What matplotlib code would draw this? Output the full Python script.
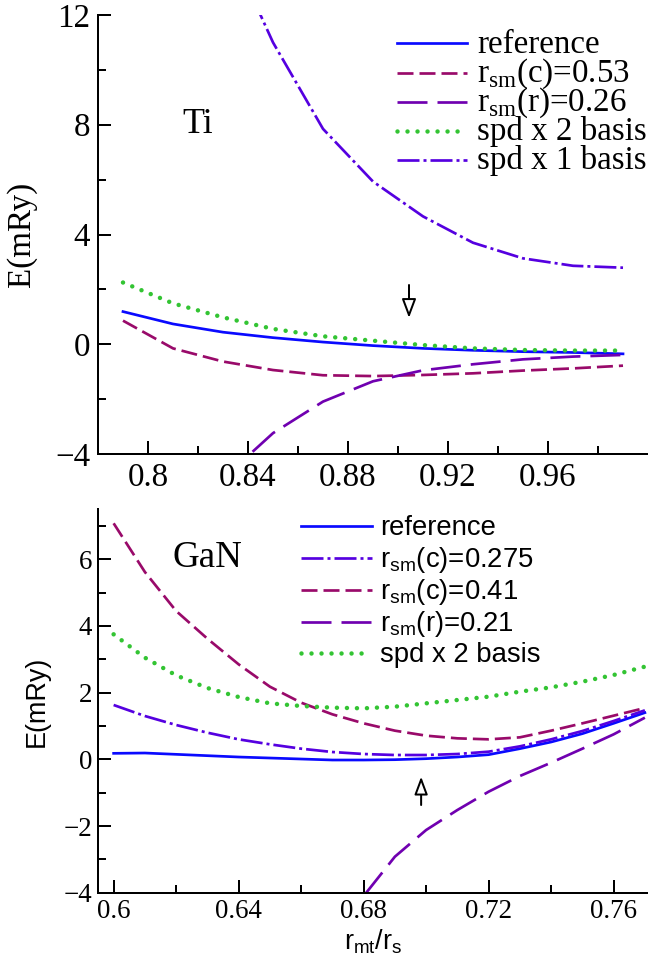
import numpy as np
import matplotlib
matplotlib.use("Agg")
import matplotlib.pyplot as plt
from matplotlib.lines import Line2D
from matplotlib.ticker import MultipleLocator, FixedLocator, FormatStrFormatter

plt.rcParams["lines.scale_dashes"] = False
plt.rcParams["mathtext.fontset"] = "custom"
plt.rcParams["mathtext.rm"] = "Liberation Serif"
plt.rcParams["mathtext.sf"] = "Liberation Sans"
plt.rcParams["font.family"] = ["Liberation Serif", "DejaVu Serif"]

SERIF = "Liberation Serif"
SANS = "Liberation Sans"

# ---- Ti panel data ----
ti_x = [0.79, 0.81, 0.83, 0.85, 0.87, 0.89, 0.91, 0.93, 0.95, 0.97, 0.99]
ti_ref = [1.19, 0.74, 0.44, 0.24, 0.08, -0.05, -0.15, -0.22, -0.27, -0.30, -0.35]
ti_c053 = [0.86, -0.15, -0.63, -0.94, -1.13, -1.16, -1.12, -1.06, -0.96, -0.88, -0.78]
ti_spd2 = [2.25, 1.49, 0.98, 0.56, 0.29, 0.13, -0.03, -0.15, -0.21, -0.23, -0.23]
ti_x_tail = [0.83, 0.85, 0.87, 0.89, 0.91, 0.93, 0.95, 0.97, 0.99]
ti_r026 = [-4.9, -3.24, -2.09, -1.35, -0.95, -0.73, -0.55, -0.45, -0.39]
ti_spd1 = [15.0, 11.0, 7.85, 5.93, 4.66, 3.70, 3.13, 2.86, 2.79]

# ---- GaN panel data ----
gan_x = [0.60, 0.61, 0.62, 0.63, 0.64, 0.65, 0.66, 0.67, 0.68,
         0.69, 0.70, 0.71, 0.72, 0.73, 0.74, 0.75, 0.76, 0.77]
gan_ref = [0.18, 0.19, 0.15, 0.11, 0.07, 0.04, 0.01, -0.02, -0.02,
           -0.01, 0.02, 0.07, 0.14, 0.32, 0.52, 0.77, 1.08, 1.40]
gan_c0275 = [1.63, 1.30, 1.03, 0.80, 0.60, 0.45, 0.32, 0.22, 0.16,
             0.13, 0.13, 0.16, 0.23, 0.39, 0.60, 0.85, 1.15, 1.47]
gan_c041 = [7.08, 5.62, 4.45, 3.62, 2.85, 2.18, 1.70, 1.35, 1.08,
            0.86, 0.71, 0.63, 0.60, 0.66, 0.86, 1.08, 1.31, 1.54]
gan_spd2 = [3.75, 3.05, 2.52, 2.14, 1.87, 1.68, 1.60, 1.55, 1.53,
            1.58, 1.68, 1.78, 1.88, 2.03, 2.16, 2.33, 2.53, 2.78]
gan_x_tail = [0.68, 0.69, 0.70, 0.71, 0.72, 0.73, 0.74, 0.75, 0.76, 0.77]
gan_r021 = [-4.1, -2.92, -2.12, -1.52, -0.97, -0.50, -0.10, 0.32, 0.75, 1.25]

BLUE = "#0a0aff"
MAROON = "#990a6a"
PURPLE = "#7000b0"
INDIGO = "#5500e0"
GREEN = "#33c433"
LW = 2.7

STYLES = {
    "ref": dict(color=BLUE, lw=LW, ls="-"),
    "dash": dict(color=MAROON, lw=LW, ls=(0, (16, 6))),
    "long": dict(color=PURPLE, lw=LW, ls=(0, (30, 10))),
    "dot": dict(color=GREEN, lw=4.5, ls=(0, (0.01, 10)), dash_capstyle="round"),
    "dashdot": dict(color=INDIGO, lw=LW, ls=(0, (22, 4, 3, 4))),
}

W, H = 648, 965
fig = plt.figure(figsize=(W / 72, H / 72), dpi=72)
ax1 = fig.add_axes([98 / W, 1 - 454 / H, 550 / W, 439 / H])
ax2 = fig.add_axes([98 / W, 1 - 892.7 / H, 550 / W, 383.4 / H])


def draw_key(entries, x0, x1, tx, rows, fs, family, drop):
    # legend drawn in figure pixels, one row per entry
    for (label, key), y in zip(entries, rows):
        st = STYLES[key]
        end = x1 - 8 if key == "dot" else x1
        fig.add_artist(Line2D([x0 / W, end / W], [1 - y / H, 1 - y / H],
                              transform=fig.transFigure, **st))
        fig.text(tx / W, 1 - (y + drop) / H, label, fontsize=fs,
                 family=family, va="baseline", ha="left")


# ---- top panel ----
ax1.plot(ti_x, ti_ref, **STYLES["ref"])
ax1.plot(ti_x, ti_c053, **STYLES["dash"])
ax1.plot(ti_x_tail, ti_r026, **STYLES["long"])
ax1.plot(ti_x, ti_spd2, **STYLES["dot"])
ax1.plot(ti_x_tail, ti_spd1, **STYLES["dashdot"])

ax1.set_xlim(0.78, 1.0)
ax1.set_ylim(-4, 12)
ax1.xaxis.set_major_locator(FixedLocator([0.8, 0.84, 0.88, 0.92, 0.96]))
ax1.xaxis.set_minor_locator(FixedLocator([0.82, 0.86, 0.90, 0.94, 0.98]))
ax1.xaxis.set_major_formatter(FormatStrFormatter("%g"))
ax1.yaxis.set_major_locator(MultipleLocator(4))
ax1.yaxis.set_minor_locator(MultipleLocator(2))
ax1.set_ylabel("E(mRy)", fontsize=33, family=SERIF)
ax1.yaxis.set_label_coords(-0.111, 0.5)
ax1.text(0.82, 8.0, "Ti", fontsize=36, family=SERIF, ha="center", va="center")
ax1.annotate("", xy=(0.9044, 0.96), xytext=(0.9044, 2.16),
             arrowprops=dict(arrowstyle="-|>,head_length=0.8,head_width=0.3",
                             mutation_scale=20, lw=2, color="black",
                             fc="white", shrinkA=0, shrinkB=0))

draw_key([("reference", "ref"),
          (r"r$_{\mathrm{sm}}$(c)=0.53", "dash"),
          (r"r$_{\mathrm{sm}}$(r)=0.26", "long"),
          ("spd x 2 basis", "dot"),
          ("spd x 1 basis", "dashdot")],
         397, 467, 477, [43.3, 72.7, 101.7, 130.7, 160.0], 33, SERIF, 9.5)

# ---- bottom panel ----
ax2.plot(gan_x, gan_ref, **STYLES["ref"])
ax2.plot(gan_x, gan_c0275, **STYLES["dashdot"])
ax2.plot(gan_x, gan_c041, **STYLES["dash"])
ax2.plot(gan_x_tail, gan_r021, **STYLES["long"])
ax2.plot(gan_x, gan_spd2, **STYLES["dot"])

ax2.set_xlim(0.595, 0.771)
ax2.set_ylim(-4, 7.5)
ax2.xaxis.set_major_locator(MultipleLocator(0.04))
ax2.xaxis.set_minor_locator(MultipleLocator(0.02))
ax2.xaxis.set_major_formatter(FormatStrFormatter("%g"))
ax2.yaxis.set_major_locator(MultipleLocator(2))
ax2.yaxis.set_minor_locator(MultipleLocator(1))
ax2.set_ylabel("E(mRy)", fontsize=27, family=SANS)
ax2.yaxis.set_label_coords(-0.087, 0.5)
ax2.set_xlabel(r"r$_{\mathsf{mt}}$/r$_{\mathsf{s}}$", fontsize=27, family=SANS)
ax2.xaxis.set_label_coords(0.5, -0.09)
ax2.text(0.630, 6.04, "GaN", fontsize=37, family=SERIF, ha="center", va="center")
ax2.annotate("", xy=(0.6984, -0.52), xytext=(0.6984, -1.37),
             arrowprops=dict(arrowstyle="-|>,head_length=0.75,head_width=0.28",
                             mutation_scale=20, lw=2, color="black",
                             fc="white", shrinkA=0, shrinkB=0))

draw_key([("reference", "ref"),
          (r"r$_{\mathsf{sm}}$(c)=0.275", "dashdot"),
          (r"r$_{\mathsf{sm}}$(c)=0.41", "dash"),
          (r"r$_{\mathsf{sm}}$(r)=0.21", "long"),
          ("spd x 2 basis", "dot")],
         301, 372, 380, [526.0, 557.7, 589.7, 621.7, 652.7], 27.5, SANS, 9)

for ax, fs, pad in ((ax1, 33, 8), (ax2, 27, 6)):
    for s in ("top", "right"):
        ax.spines[s].set_visible(False)
    for s in ("left", "bottom"):
        ax.spines[s].set_linewidth(2)
    ax.tick_params(which="major", direction="in", length=13, width=2,
                   labelsize=fs, pad=pad)
    ax.tick_params(which="minor", direction="in", length=8, width=2)
    for lab in ax.get_xticklabels() + ax.get_yticklabels():
        lab.set_family(SERIF)

fig.savefig("out.png", dpi=72)
